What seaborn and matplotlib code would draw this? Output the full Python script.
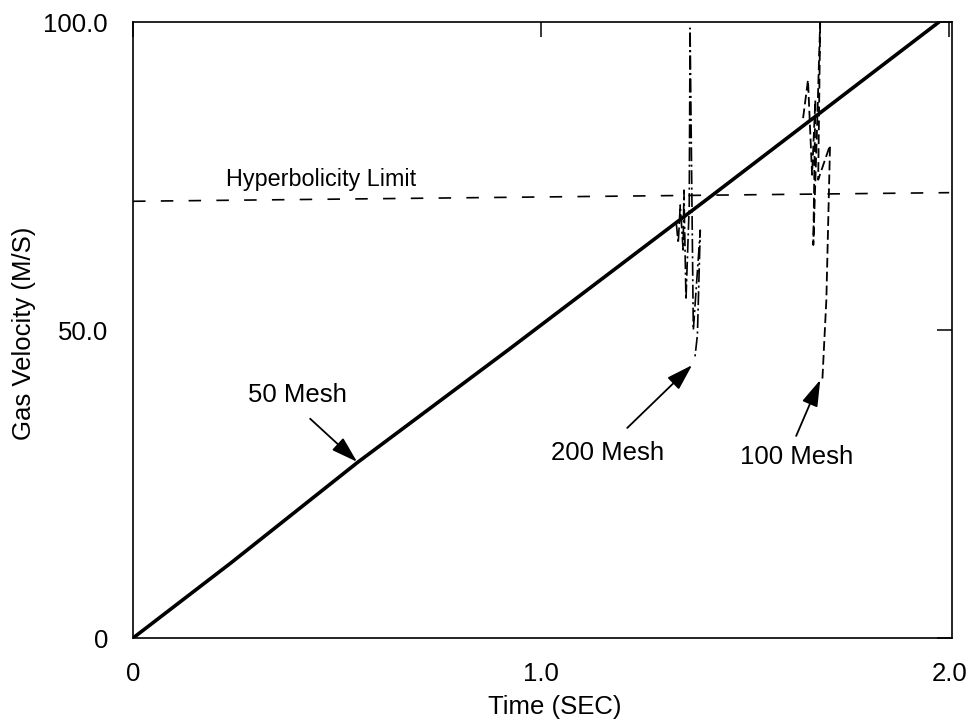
import matplotlib
matplotlib.use("Agg")
import matplotlib.pyplot as plt
import seaborn as sns
import pandas as pd

# ---- data ----
t_50 = [0.0, 0.24, 0.55, 0.92, 1.41, 1.975]
v_50 = [0.0, 12.2, 28.5, 46.8, 71.4, 100.0]

t_200 = [1.331, 1.336, 1.341, 1.348, 1.350, 1.355, 1.363, 1.365, 1.373, 1.390, 1.383, 1.377]
v_200 = [67.5, 64.1, 70.3, 63.0, 72.7, 54.9, 70.3, 99.0, 50.0, 66.2, 49.2, 45.6]

t_100 = [1.642, 1.654, 1.664, 1.672, 1.667, 1.676, 1.684, 1.679, 1.708, 1.699, 1.689]
v_100 = [84.4, 90.6, 75.2, 87.3, 63.8, 82.5, 100.5, 74.4, 80.0, 54.9, 41.6]

t_hyp = [0.0, 2.0]
v_hyp = [70.9, 72.3]

x_ticks = [0.0, 1.0, 2.0]
x_ticklabels = ["0", "1.0", "2.0"]
y_ticks = [0.0, 50.0, 100.0]
y_ticklabels = ["0", "50.0", "100.0"]

sns.set_style("white")
plt.rcParams["font.family"] = ["Liberation Sans", "DejaVu Sans"]
plt.rcParams["lines.scale_dashes"] = False
plt.rcParams["text.color"] = "black"
plt.rcParams["axes.labelcolor"] = "black"
plt.rcParams["xtick.color"] = "black"
plt.rcParams["ytick.color"] = "black"

fig = plt.figure(figsize=(9.69, 7.27), dpi=100)
ax = fig.add_axes([0.1373, 0.1224, 0.8452, 0.8473])

df50 = pd.DataFrame({"t": t_50, "v": v_50})
df200 = pd.DataFrame({"t": t_200, "v": v_200})
df100 = pd.DataFrame({"t": t_100, "v": v_100})
dfh = pd.DataFrame({"t": t_hyp, "v": v_hyp})

sns.lineplot(data=dfh, x="t", y="v", ax=ax, sort=False, estimator=None,
             color="black", lw=1.2, linestyle=(0, (9, 11)))
sns.lineplot(data=df50, x="t", y="v", ax=ax, sort=False, estimator=None,
             color="black", lw=2.6)
sns.lineplot(data=df200, x="t", y="v", ax=ax, sort=False, estimator=None,
             color="black", lw=1.2, linestyle=(0, (10, 2.5, 1.5, 2.5)))
sns.lineplot(data=df100, x="t", y="v", ax=ax, sort=False, estimator=None,
             color="black", lw=1.3, linestyle=(0, (7, 3)))

ax.set_xlim(0, 2.007)
ax.set_ylim(0, 100)

ax.set_xticks(x_ticks)
ax.set_xticklabels(x_ticklabels)
ax.set_yticks(y_ticks)
ax.set_yticklabels(y_ticklabels)
ax.tick_params(axis="both", direction="in", length=11, width=1.1,
               labelsize=18.5, colors="black", top=True, right=True)
ax.tick_params(axis="x", pad=17)
ax.tick_params(axis="y", pad=18)

for s in ax.spines.values():
    s.set_linewidth(1.2)
    s.set_color("black")

ax.set_xlabel("Time (SEC)", fontsize=18.5)
ax.set_ylabel("Gas Velocity (M/S)", fontsize=18.5)
ax.xaxis.set_label_coords(0.515, -0.093)
ax.yaxis.set_label_coords(-0.118, 0.495)

fs = 18.5
ax.text(0.228, 74.4, "Hyperbolicity Limit", fontsize=16.8, ha="left", va="center")
ax.text(0.404, 39.4, "50 Mesh", fontsize=fs, ha="center", va="center")
ax.text(1.164, 30.0, "200 Mesh", fontsize=fs, ha="center", va="center")
ax.text(1.627, 29.4, "100 Mesh", fontsize=fs, ha="center", va="center")

arrow = dict(arrowstyle="-|>,head_length=0.9,head_width=0.28", color="black",
             lw=1.3, mutation_scale=18, shrinkA=0, shrinkB=0)
ax.annotate("", xy=(0.549, 28.6), xytext=(0.434, 35.6), arrowprops=arrow)
ax.annotate("", xy=(1.370, 44.3), xytext=(1.211, 34.1), arrowprops=arrow)
ax.annotate("", xy=(1.684, 41.9), xytext=(1.625, 32.8), arrowprops=arrow)

fig.savefig("out.png", dpi=100)
